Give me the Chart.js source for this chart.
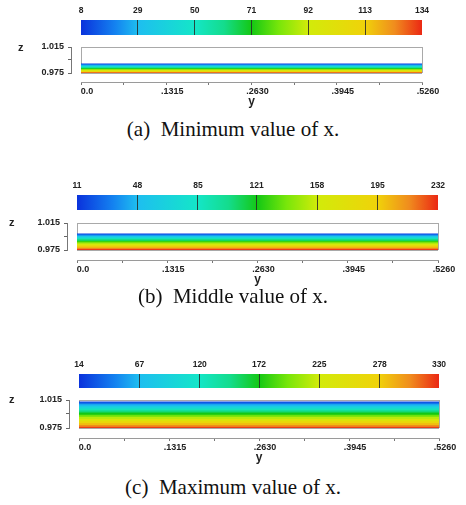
<!DOCTYPE html>
<html><head><meta charset="utf-8">
<script src="https://cdn.jsdelivr.net/npm/chart.js@4.4.0/dist/chart.umd.min.js"></script>
<style>
html,body{margin:0;padding:0;background:#fff;}
body{width:466px;height:505px;position:relative;overflow:hidden;}
canvas{position:absolute;}
.cap{position:absolute;left:0;width:466px;text-align:center;font-family:"Liberation Serif","Times New Roman",serif;font-size:21px;color:#111;white-space:pre;line-height:22px;}
.zl{position:absolute;font-family:"Liberation Sans",Arial,sans-serif;font-weight:bold;font-size:11px;color:#222;line-height:12px;}
</style></head><body>
<script>
// ---------- data ----------
const yTickValues = [0, 0.06575, 0.1315, 0.19725, 0.263, 0.32875, 0.3945, 0.46025, 0.526];
const yTickLabels = ['0.0', '', '.1315', '', '.2630', '', '.3945', '', '.5260'];
const zTickValues = [0.975, 0.995, 1.015];
const zTickLabels = ['0.975', '', '1.015'];
const yRange = [0, 0.526];
const zRange = [0.975, 1.015];
const captions = ['(a)  Minimum value of x.', '(b)  Middle value of x.', '(c)  Maximum value of x.'];

const cbTicksA = [8, 29, 50, 71, 92, 113, 134];
const cbTicksB = [11, 48, 85, 121, 158, 195, 232];
const cbTicksC = [14, 67, 120, 172, 225, 278, 330];

// band top heights (z) and band values, top of film to wall
const bandTopA = [0.9895, 0.9885, 0.9870, 0.9855, 0.9840, 0.9825, 0.9810, 0.9795, 0.9780, 0.9765, 0.9757];
const bandValA = [10, 22, 35, 48, 60, 72, 84, 96, 108, 120, 131];
const bandTopB = [0.9995, 0.9985, 0.9965, 0.9945, 0.9925, 0.9905, 0.9885, 0.9865, 0.9845, 0.9825, 0.9805, 0.9785, 0.9763];
const bandValB = [14, 30, 50, 70, 90, 110, 128, 145, 162, 180, 198, 215, 229];
const bandTopC = [1.0130, 1.0115, 1.0090, 1.0060, 1.0030, 1.0000, 0.9970, 0.9940, 0.9910, 0.9880, 0.9850, 0.9820, 0.9790, 0.9765];
const bandValC = [18, 40, 65, 95, 125, 150, 172, 195, 218, 240, 262, 285, 308, 325];

// ---------- style ----------
const cmapStops = [[0,[10,50,220]],[0.1,[20,130,240]],[0.167,[30,190,240]],[0.333,[20,230,200]],[0.42,[20,220,140]],[0.5,[20,200,20]],[0.58,[120,230,10]],[0.667,[210,235,10]],[0.833,[240,210,10]],[0.92,[240,140,30]],[1,[235,40,20]]];
function cmap(t){
  t = Math.max(0, Math.min(1, t));
  for (let i = 1; i < cmapStops.length; i++) {
    const [t1, c1] = cmapStops[i], [t0, c0] = cmapStops[i-1];
    if (t <= t1) {
      const f = (t - t0) / (t1 - t0);
      const c = c0.map((v, k) => Math.round(v + (c1[k] - v) * f));
      return `rgb(${c[0]},${c[1]},${c[2]})`;
    }
  }
  return 'rgb(235,40,20)';
}
const FAM = '"Liberation Sans", Arial, sans-serif';
const cbFont = {family: FAM, weight: 'bold', size: 8.5};
const xFont = {family: FAM, weight: 'bold', size: 9};
const zFont = {family: FAM, weight: 'bold', size: 9};
const W = 466;

const panels = [
  {cb: cbTicksA, top: bandTopA, val: bandValA, L: {cbTop: 20, cbBot: 35, left: 81, right: 422, boxTop: 47, boxBot: 73, axisY: 82, capY: 118, zX: 18, zY: 41}},
  {cb: cbTicksB, top: bandTopB, val: bandValB, L: {cbTop: 195, cbBot: 210, left: 77, right: 438, boxTop: 223, boxBot: 250, axisY: 260, capY: 285, zX: 9, zY: 216}},
  {cb: cbTicksC, top: bandTopC, val: bandValC, L: {cbTop: 374, cbBot: 388, left: 79, right: 439, boxTop: 400, boxBot: 428, axisY: 438, capY: 476, zX: 9, zY: 393}}
];

function addCanvas(top, h) {
  const c = document.createElement('canvas');
  c.width = W; c.height = h;
  c.style.left = '0px'; c.style.top = top + 'px';
  c.style.width = W + 'px'; c.style.height = h + 'px';
  document.body.appendChild(c);
  return c;
}

function makeColorbar(ticks, L) {
  const min = ticks[0], max = ticks[ticks.length - 1];
  const head = 22;
  const c = addCanvas(L.cbTop - head, head + (L.cbBot - L.cbTop) + 2);
  new Chart(c, {
    type: 'bar',
    data: {labels: ['cb'], datasets: [{
      data: [[min, max]], borderWidth: 0, barPercentage: 1, categoryPercentage: 1,
      backgroundColor: (ctx) => {
        const ca = ctx.chart.chartArea;
        if (!ca) return '#888';
        const g = ctx.chart.ctx.createLinearGradient(ca.left, 0, ca.right, 0);
        cmapStops.forEach(([t, col]) => g.addColorStop(t, `rgb(${col[0]},${col[1]},${col[2]})`));
        return g;
      }
    }]},
    options: {
      indexAxis: 'y', responsive: false, animation: false, events: [],
      layout: {padding: {left: L.left, right: W - L.right, top: 0, bottom: 2}},
      plugins: {legend: {display: false}, tooltip: {enabled: false}},
      scales: {
        x: {type: 'linear', position: 'top', min, max,
          afterBuildTicks: s => { s.ticks = ticks.map(v => ({value: v})); },
          afterFit: s => { s.height = head; },
          grid: {z: 1, drawOnChartArea: true, drawTicks: false, lineWidth: 1,
            color: ctx => (ctx.index === 0 || ctx.index === ticks.length - 1) ? 'rgba(0,0,0,0)' : 'rgba(40,40,40,0.85)'},
          border: {display: false},
          ticks: {padding: 4, font: cbFont, color: '#222', maxRotation: 0, autoSkip: false,
            callback: (v, i) => String(ticks[i])}
        },
        y: {display: false}
      }
    }
  });
}

function makeBox(p) {
  const L = p.L, min = p.cb[0], max = p.cb[p.cb.length - 1];
  const gapX = L.axisY - L.boxBot, axH = 28, topPad = 10;
  const c = addCanvas(L.boxTop - topPad, (L.axisY + axH) - (L.boxTop - topPad));
  const n = p.top.length;
  const datasets = p.top.map((z, i) => ({
    type: 'line', data: [{x: yRange[0], y: z}, {x: yRange[1], y: z}],
    borderWidth: 0, pointRadius: 0, fill: {value: zRange[0]},
    backgroundColor: cmap((p.val[i] - min) / (max - min)), order: n - i,
    xAxisID: 'x', yAxisID: 'y'
  }));
  const outline = {color: '#a9a9a9', width: 1};
  const hiddenGrid = {display: true, drawOnChartArea: false, drawTicks: false, color: 'rgba(0,0,0,0)', lineWidth: 0};
  new Chart(c, {
    type: 'scatter',
    data: {datasets},
    options: {
      responsive: false, animation: false, events: [],
      layout: {padding: {left: 0, right: W - L.right, top: topPad, bottom: 0}},
      plugins: {legend: {display: false}, tooltip: {enabled: false}},
      scales: {
        x: {type: 'linear', position: 'bottom', weight: 0, min: yRange[0], max: yRange[1],
          afterFit: s => { s.height = gapX; }, ticks: {display: false}, grid: hiddenGrid, border: outline},
        xAx: {type: 'linear', position: 'bottom', weight: 1, min: yRange[0], max: yRange[1],
          afterBuildTicks: s => { s.ticks = yTickValues.map(v => ({value: v})); },
          afterFit: s => { s.height = axH; },
          grid: {display: true, drawOnChartArea: false, drawTicks: true, tickLength: 3, color: '#777', lineWidth: 1},
          border: {display: true, color: '#9a9a9a', width: 1},
          ticks: {labelOffset: 6, padding: 1, font: xFont, color: '#222', maxRotation: 0, autoSkip: false,
            callback: (v, i) => yTickLabels[i]},
          title: {display: true, text: 'y', color: '#222', font: {family: FAM, weight: 'bold', size: 12}, padding: {top: 0, bottom: 1}}
        },
        xTop: {type: 'linear', position: 'top', min: yRange[0], max: yRange[1],
          afterFit: s => { s.height = 0; }, ticks: {display: false}, grid: hiddenGrid, border: outline},
        y: {type: 'linear', position: 'left', weight: 0, min: zRange[0], max: zRange[1],
          afterFit: s => { s.width = 10; }, ticks: {display: false}, grid: hiddenGrid, border: outline},
        yAx: {type: 'linear', position: 'left', weight: 1, min: zRange[0], max: zRange[1],
          afterBuildTicks: s => { s.ticks = zTickValues.map(v => ({value: v})); },
          afterFit: s => { s.width = L.left - 10; },
          grid: {display: true, drawOnChartArea: false, drawTicks: true, tickLength: 3, color: '#666', lineWidth: 1},
          border: {display: true, color: '#777', width: 1},
          ticks: {padding: 4, font: zFont, color: '#222', autoSkip: false,
            callback: (v, i) => zTickLabels[i]}
        },
        yRight: {type: 'linear', position: 'right', min: zRange[0], max: zRange[1],
          afterFit: s => { s.width = 0; }, ticks: {display: false}, grid: hiddenGrid, border: outline}
      }
    }
  });
  const z = document.createElement('div');
  z.className = 'zl'; z.textContent = 'z';
  z.style.left = L.zX + 'px'; z.style.top = L.zY + 'px';
  document.body.appendChild(z);
}

panels.forEach((p, i) => {
  makeColorbar(p.cb, p.L);
  makeBox(p);
  const d = document.createElement('div');
  d.className = 'cap'; d.textContent = captions[i];
  d.style.top = p.L.capY + 'px';
  document.body.appendChild(d);
});
</script>
</body></html>
